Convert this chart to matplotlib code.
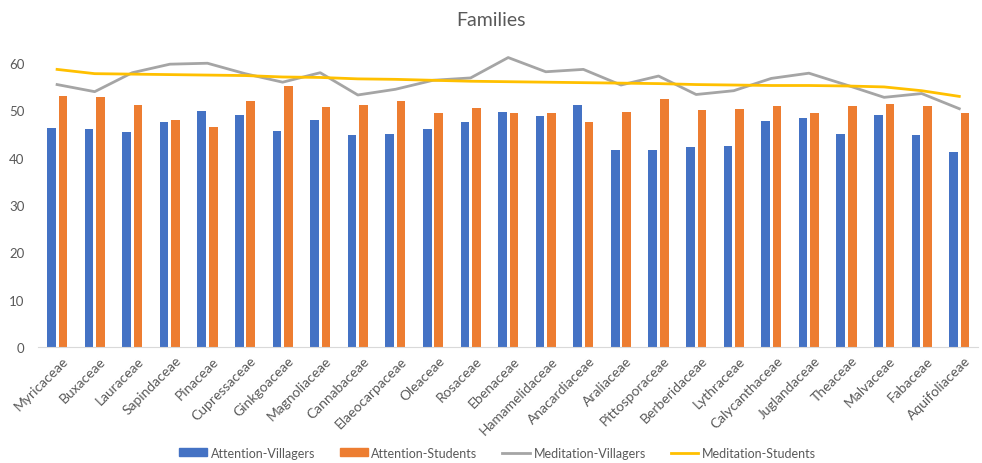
import numpy as np
import matplotlib.pyplot as plt
import matplotlib.transforms as mtransforms
from matplotlib.patches import Patch
from matplotlib.lines import Line2D

plt.rcParams['font.family'] = ['Lato', 'DejaVu Sans']

families = ['Myricaceae', 'Buxaceae', 'Lauraceae', 'Sapindaceae', 'Pinaceae',
            'Cupressaceae', 'Ginkgoaceae', 'Magnoliaceae', 'Cannabaceae',
            'Elaeocarpaceae', 'Oleaceae', 'Rosaceae', 'Ebenaceae',
            'Hamamelidaceae', 'Anacardiaceae', 'Araliaceae', 'Pittosporaceae',
            'Berberidaceae', 'Lythraceae', 'Calycanthaceae', 'Juglandaceae',
            'Theaceae', 'Malvaceae', 'Fabaceae', 'Aquifoliaceae']

attention_villagers = [46.3, 46.1, 45.3, 47.6, 49.9, 48.9, 45.7, 48.0, 44.7,
                       45.0, 46.1, 47.5, 49.6, 48.7, 51.1, 41.6, 41.6, 42.3,
                       42.5, 47.7, 48.3, 45.0, 49.0, 44.7, 41.1]
attention_students = [53.0, 52.7, 51.0, 48.0, 46.4, 51.9, 55.1, 50.7, 51.1,
                      52.0, 49.3, 50.5, 49.5, 49.3, 47.5, 49.6, 52.3, 50.1,
                      50.3, 50.8, 49.5, 50.8, 51.4, 50.9, 49.5]
meditation_villagers = [55.4, 53.9, 57.9, 59.7, 59.9, 57.7, 55.9, 57.9, 53.2,
                        54.4, 56.3, 56.8, 61.1, 58.1, 58.6, 55.3, 57.2, 53.3,
                        54.1, 56.7, 57.8, 55.3, 52.7, 53.5, 50.3]
meditation_students = [58.6, 57.7, 57.6, 57.5, 57.4, 57.3, 57.0, 56.9, 56.6,
                       56.5, 56.3, 56.1, 56.0, 55.9, 55.8, 55.7, 55.6, 55.4,
                       55.3, 55.2, 55.2, 55.1, 54.9, 54.1, 52.9]

c_blue = '#4472C4'
c_orange = '#ED7D31'
c_gray = '#A5A5A5'
c_gold = '#FFC000'
c_text = '#595959'

x = np.arange(len(families))
w = 0.23

fig = plt.figure(figsize=(9.82, 4.64), dpi=100)
ax = fig.add_axes([0.039, 0.25, 0.957, 0.633])

ax.bar(x - 0.153, attention_villagers, w, color=c_blue, zorder=2)
ax.bar(x + 0.153, attention_students, w, color=c_orange, zorder=2)
ax.plot(x, meditation_villagers, color=c_gray, lw=2.0, zorder=3)
ax.plot(x, meditation_students, color=c_gold, lw=2.0, zorder=3)

ax.set_xlim(-0.5, len(families) - 0.5)
ax.set_ylim(0, 62)
ax.set_yticks(range(0, 61, 10))
ax.set_xticks(x)
ax.set_xticklabels(families, rotation=45, ha='right', rotation_mode='anchor')
ax.tick_params(axis='x', length=0, labelsize=10, labelcolor=c_text, pad=5)
ax.tick_params(axis='y', length=0, labelsize=9.5, labelcolor=c_text, pad=10)

# nudge the slanted labels a little to the right
shift = mtransforms.ScaledTranslation(5 / 100, 0, fig.dpi_scale_trans)
for lbl in ax.get_xticklabels():
    lbl.set_transform(lbl.get_transform() + shift)

for side in ['top', 'right', 'left']:
    ax.spines[side].set_visible(False)
ax.spines['bottom'].set_color('#D9D9D9')

fig.text(0.5, 0.955, 'Families', ha='center', va='center',
         fontsize=14, color=c_text)

handles = [Patch(color=c_blue), Patch(color=c_orange),
           Line2D([], [], color=c_gray, lw=2.0),
           Line2D([], [], color=c_gold, lw=2.0)]
labels = ['Attention-Villagers', 'Attention-Students',
          'Meditation-Villagers', 'Meditation-Students']
leg = fig.legend(handles, labels, loc='center', bbox_to_anchor=(0.507, 0.022),
                 ncol=4, frameon=False, fontsize=9, handlelength=2.2,
                 handleheight=0.6, columnspacing=2.0, handletextpad=0.3)
for t in leg.get_texts():
    t.set_color(c_text)

fig.savefig('out.png', dpi=100)
